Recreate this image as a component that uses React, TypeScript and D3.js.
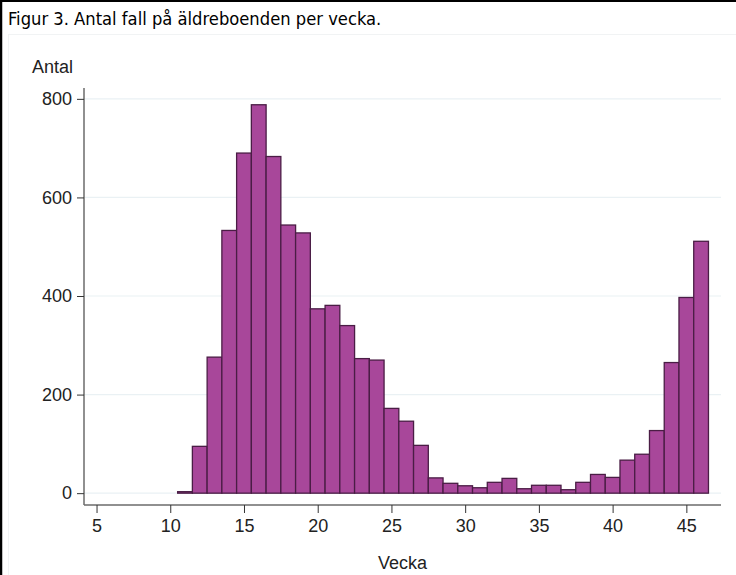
import { useEffect, useRef } from 'react';
import * as d3 from 'd3';

// Antal fall per vecka (v. 11–46)
const weeks = [
  11, 12, 13, 14, 15, 16, 17, 18, 19, 20, 21, 22, 23, 24, 25, 26, 27, 28, 29, 30, 31, 32, 33, 34,
  35, 36, 37, 38, 39, 40, 41, 42, 43, 44, 45, 46,
];
const counts = [
  3, 95, 276, 533, 690, 788, 683, 544, 528, 374, 381, 340, 273, 270, 172, 146, 97, 31, 20, 15, 11,
  22, 30, 9, 16, 16, 7, 22, 38, 32, 67, 79, 127, 265, 397, 511,
];
const xTicks = [5, 10, 15, 20, 25, 30, 35, 40, 45];
const yTicks = [0, 200, 400, 600, 800];

const title = 'Figur 3. Antal fall på äldreboenden per vecka.';
const xLabel = 'Vecka';
const yLabel = 'Antal';

export default function App() {
  const svgRef = useRef<SVGSVGElement>(null);

  useEffect(() => {
    if (!svgRef.current) return;
    const width = 736;
    const height = 575;
    const svg = d3.select(svgRef.current);
    svg.selectAll('*').remove();

    const plot = { left: 84, right: 721, top: 88, bottom: 505 };

    const x = d3.scaleLinear().domain([4.15, 47.35]).range([plot.left, plot.right]);
    const y = d3.scaleLinear().domain([-24, 822]).range([plot.bottom, plot.top]);

    svg.append('rect').attr('width', width).attr('height', height).attr('fill', '#fff');

    // outer frame (top + left)
    svg.append('line').attr('x1', 0).attr('x2', width).attr('y1', 1).attr('y2', 1)
      .attr('stroke', '#000').attr('stroke-width', 2);
    svg.append('line').attr('x1', 1).attr('x2', 1).attr('y1', 0).attr('y2', height)
      .attr('stroke', '#000').attr('stroke-width', 2.5);

    // graph region
    svg.append('rect')
      .attr('x', 8.5).attr('y', 34.5).attr('width', width - 8).attr('height', height)
      .attr('fill', 'none').attr('stroke', '#f1f3f4');

    svg.append('text')
      .attr('x', 8).attr('y', 25)
      .style('font-family', 'Tahoma, "DejaVu Sans Condensed", sans-serif')
      .style('font-size', '18.2px')
      .attr('fill', '#000')
      .text(title);

    // gridlines
    svg.append('g')
      .selectAll('line')
      .data(yTicks)
      .join('line')
      .attr('x1', plot.left).attr('x2', plot.right)
      .attr('y1', (d) => y(d)).attr('y2', (d) => y(d))
      .attr('stroke', '#eaf1f4').attr('stroke-width', 1.2);

    // bars
    svg.append('g')
      .selectAll('rect')
      .data(weeks.map((w, i) => ({ w, v: counts[i] })))
      .join('rect')
      .attr('x', (d) => x(d.w - 0.5))
      .attr('width', (d) => x(d.w + 0.5) - x(d.w - 0.5))
      .attr('y', (d) => y(d.v))
      .attr('height', (d) => y(0) - y(d.v))
      .attr('fill', '#a8479a')
      .attr('stroke', '#4a1d45')
      .attr('stroke-width', 1.3);

    const font = '"Liberation Sans", Arial, sans-serif';
    const fs = '18px';

    // y axis
    const yAxis = svg.append('g')
      .attr('transform', `translate(${plot.left},0)`)
      .call(d3.axisLeft(y).tickValues(yTicks).tickSize(7).tickPadding(5).tickSizeOuter(0));
    yAxis.select('.domain').attr('stroke', '#6b6b6b').attr('stroke-width', 1.5)
      .attr('d', `M0,${plot.top}V${plot.bottom}`);
    yAxis.selectAll('.tick line').attr('stroke', '#333');
    yAxis.selectAll('.tick text')
      .style('font-family', font).style('font-size', fs).attr('fill', '#222');

    // x axis
    const xAxis = svg.append('g')
      .attr('transform', `translate(0,${plot.bottom})`)
      .call(d3.axisBottom(x).tickValues(xTicks).tickSize(8).tickPadding(6).tickSizeOuter(0));
    xAxis.select('.domain').attr('stroke', '#6b6b6b').attr('stroke-width', 1.5)
      .attr('d', `M${plot.left},0H${plot.right}`);
    xAxis.selectAll('.tick line').attr('stroke', '#333');
    xAxis.selectAll('.tick text')
      .style('font-family', font).style('font-size', fs).attr('fill', '#222');

    svg.append('text')
      .attr('x', 32).attr('y', 73)
      .style('font-family', font).style('font-size', fs)
      .attr('fill', '#222')
      .text(yLabel);

    svg.append('text')
      .attr('x', (plot.left + plot.right) / 2).attr('y', 569)
      .attr('text-anchor', 'middle')
      .style('font-family', font).style('font-size', fs)
      .attr('fill', '#222')
      .text(xLabel);
  }, []);

  return (
    <svg
      ref={svgRef}
      width={736}
      height={575}
      style={{ position: 'absolute', left: 0, top: 0 }}
    />
  );
}
